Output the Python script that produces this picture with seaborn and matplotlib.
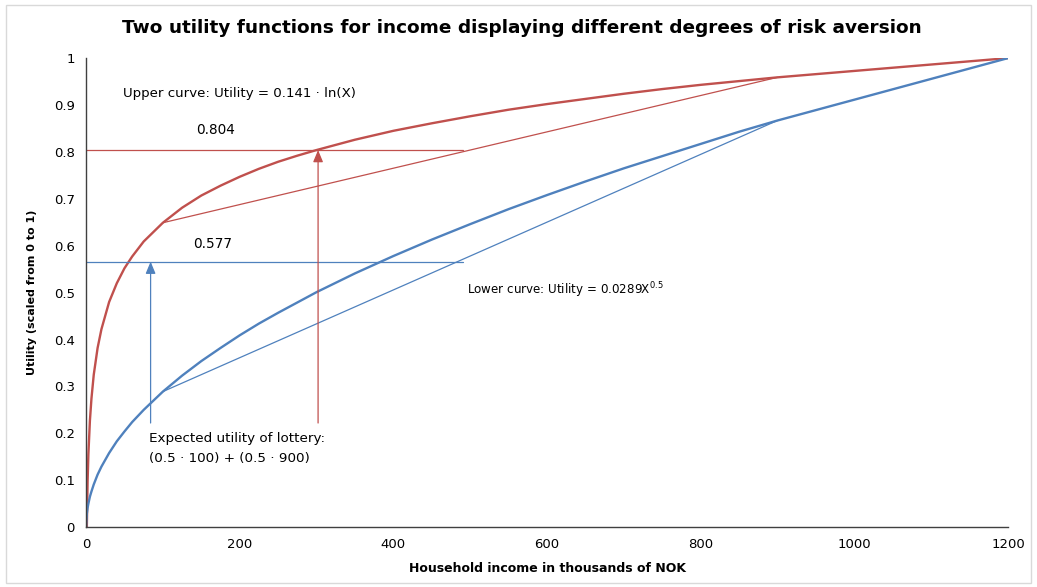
import numpy as np
import pandas as pd
import seaborn as sns
import matplotlib.pyplot as plt
from matplotlib.patches import Rectangle

# data
income = [0, 1, 2, 3, 5, 7, 10, 15, 20, 30, 40, 50, 60, 75, 100, 125, 150, 175,
          200, 225, 250, 275, 300, 350, 400, 450, 500, 550, 600, 650, 700,
          750, 800, 850, 900, 1200]
upper_utility = [0, 0, 0.098, 0.155, 0.227, 0.274, 0.325, 0.382, 0.422, 0.480,
                 0.520, 0.552, 0.577, 0.609, 0.649, 0.681, 0.707, 0.728,
                 0.747, 0.764, 0.779, 0.792, 0.804, 0.826, 0.845, 0.861,
                 0.876, 0.890, 0.902, 0.913, 0.924, 0.934, 0.943, 0.951,
                 0.959, 1.0]
lower_utility = [0, 0.029, 0.041, 0.050, 0.065, 0.076, 0.091, 0.112, 0.129,
                 0.158, 0.183, 0.204, 0.224, 0.250, 0.289, 0.323, 0.354,
                 0.382, 0.409, 0.434, 0.457, 0.479, 0.501, 0.541, 0.578,
                 0.613, 0.646, 0.678, 0.708, 0.737, 0.765, 0.791, 0.817,
                 0.843, 0.867, 1.0]

lottery_x = [100, 900]
upper_chord = [0.649, 0.959]
lower_chord = [0.289, 0.867]

eu_upper = 0.804
eu_lower = 0.566
eu_line_end = 490
ce_upper_x = 302
ce_lower_x = 84
arrow_base = 0.222

x_ticks = [0, 200, 400, 600, 800, 1000, 1200]
y_ticks = [0, 0.1, 0.2, 0.3, 0.4, 0.5, 0.6, 0.7, 0.8, 0.9, 1]
y_labels = ['0', '0.1', '0.2', '0.3', '0.4', '0.5', '0.6', '0.7', '0.8', '0.9', '1']

RED = '#C0504D'
BLUE = '#4F81BD'

sns.set_style('white')
plt.rcParams['font.family'] = ['DejaVu Sans']
plt.rcParams['text.color'] = 'black'
plt.rcParams['axes.labelcolor'] = 'black'
plt.rcParams['xtick.color'] = 'black'
plt.rcParams['ytick.color'] = 'black'

df = pd.DataFrame({'income': income, 'upper': upper_utility, 'lower': lower_utility})
chords = pd.DataFrame({'x': lottery_x, 'up': upper_chord, 'low': lower_chord})

fig = plt.figure(figsize=(10.37, 5.87), dpi=100)
ax = fig.add_axes([0.083, 0.102, 0.889, 0.799])

sns.lineplot(x='income', y='upper', data=df, color=RED, lw=1.7, ax=ax)
sns.lineplot(x='income', y='lower', data=df, color=BLUE, lw=1.7, ax=ax)
sns.lineplot(x='x', y='up', data=chords, color=RED, lw=0.9, ax=ax)
sns.lineplot(x='x', y='low', data=chords, color=BLUE, lw=0.9, ax=ax)

ax.plot([0, eu_line_end], [eu_upper, eu_upper], color=RED, lw=0.9)
ax.plot([0, eu_line_end], [eu_lower, eu_lower], color=BLUE, lw=0.9)

ax.annotate('', xy=(ce_upper_x, eu_upper), xytext=(ce_upper_x, arrow_base),
            arrowprops=dict(arrowstyle='-|>,head_width=0.25,head_length=0.6', color=RED,
                            lw=0.9, mutation_scale=12, shrinkA=0, shrinkB=0))
ax.annotate('', xy=(ce_lower_x, eu_lower), xytext=(ce_lower_x, arrow_base),
            arrowprops=dict(arrowstyle='-|>,head_width=0.25,head_length=0.6', color=BLUE,
                            lw=0.9, mutation_scale=12, shrinkA=0, shrinkB=0))

ax.text(48, 0.925, 'Upper curve: Utility = 0.141 · ln(X)', fontsize=9.6, va='center')
ax.text(168, 0.846, '0.804', fontsize=9.8, ha='center', va='center')
ax.text(165, 0.603, '0.577', fontsize=9.8, ha='center', va='center')
ax.text(496, 0.505, 'Lower curve: Utility = 0.0289X$^{0.5}$', fontsize=8.6, va='center')
ax.text(82, 0.19, 'Expected utility of lottery:', fontsize=9.7, va='center')
ax.text(82, 0.146, '(0.5 · 100) + (0.5 · 900)', fontsize=9.7, va='center')

ax.set_xlim(0, 1200)
ax.set_ylim(0, 1)
ax.set_xticks(x_ticks)
ax.set_yticks(y_ticks)
ax.set_yticklabels(y_labels)
ax.tick_params(length=0, labelsize=9.5, pad=8)
for s in ['top', 'right']:
    ax.spines[s].set_visible(False)
for s in ['left', 'bottom']:
    ax.spines[s].set_color('#404040')
    ax.spines[s].set_linewidth(1.0)

ax.set_xlabel('Household income in thousands of NOK', fontsize=9, fontweight='bold', labelpad=8)
ax.set_ylabel('Utility (scaled from 0 to 1)', fontsize=8, fontweight='bold', labelpad=12)
fig.suptitle('Two utility functions for income displaying different degrees of risk aversion',
             fontsize=13.3, fontweight='bold', x=0.503, y=0.968)

fig.patches.append(Rectangle((0.006, 0.007), 0.988, 0.985, transform=fig.transFigure,
                             fill=False, edgecolor='#D9D9D9', lw=1))

plt.savefig('out.png', dpi=100)
